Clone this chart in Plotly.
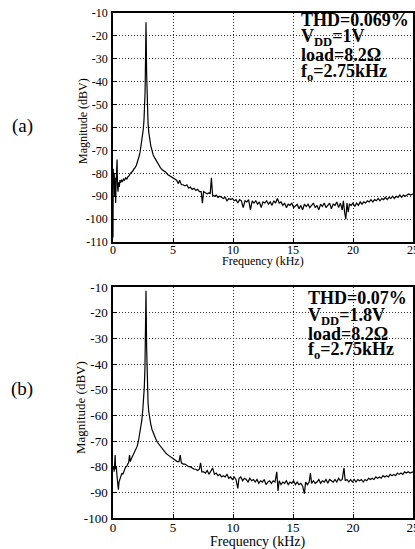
import plotly.graph_objects as go

# ---------------- data ----------------
freq_a = [0.0, 0.02, 0.06, 0.10, 0.14, 0.18, 0.22, 0.26, 0.30, 0.34, 0.38, 0.42, 0.46, 0.52, 0.58, 0.65,
          0.72, 0.80, 0.88, 0.96, 1.05, 1.15, 1.25, 1.35, 1.45, 1.55, 1.65, 1.75, 1.85, 1.95, 2.05, 2.15,
          2.25, 2.35, 2.45, 2.52, 2.58, 2.63, 2.67, 2.70, 2.73, 2.75, 2.77, 2.80, 2.83, 2.87, 2.92, 2.98,
          3.05, 3.15, 3.25, 3.35, 3.5, 3.65, 3.8, 3.95, 4.1, 4.25, 4.4, 4.55, 4.7, 4.85, 5.0, 5.15, 5.3,
          5.45, 5.55, 5.7, 5.85, 6.0, 6.15, 6.3, 6.45, 6.6, 6.75, 6.9, 7.05, 7.2, 7.35, 7.45, 7.55, 7.7,
          7.85, 8.0, 8.1, 8.2, 8.3, 8.45, 8.6, 8.75, 8.9, 9.05, 9.2, 9.35, 9.5, 9.65, 9.8, 9.95, 10.1,
          10.25, 10.4, 10.55, 10.7, 10.85, 11.0, 11.15, 11.3, 11.45, 11.6, 11.75, 11.9, 12.05, 12.2,
          12.35, 12.5, 12.65, 12.8, 12.95, 13.1, 13.25, 13.4, 13.55, 13.7, 13.85, 14.0, 14.15, 14.3,
          14.45, 14.6, 14.75, 14.9, 15.05, 15.2, 15.35, 15.5, 15.65, 15.8, 15.95, 16.1, 16.25, 16.4,
          16.55, 16.7, 16.85, 17.0, 17.15, 17.3, 17.45, 17.6, 17.75, 17.9, 18.05, 18.2, 18.35, 18.5,
          18.65, 18.8, 18.95, 19.1, 19.2, 19.3, 19.4, 19.5, 19.6, 19.7, 19.85, 20.0, 20.15, 20.3, 20.45,
          20.6, 20.75, 20.9, 21.05, 21.2, 21.35, 21.5, 21.65, 21.8, 21.95, 22.1, 22.25, 22.4, 22.55,
          22.7, 22.85, 23.0, 23.15, 23.3, 23.45, 23.6, 23.75, 23.9, 24.05, 24.2, 24.35, 24.5, 24.65,
          24.8, 25.0]
mag_a = [-108, -78, -86, -80, -90, -82, -93, -84, -76, -74, -86, -88, -84, -86, -83, -84,
         -83, -83.5, -82.5, -83, -82, -82.5, -81.5, -81, -80, -79.5, -79, -78, -77.5, -76.5, -75, -73,
         -71, -68, -64, -61, -57, -52, -45, -35, -22, -14, -22, -36, -46, -53, -58, -62,
         -65, -68, -70, -72, -73.5, -75, -76.5, -77.5, -78.5, -79, -79.5, -80.5, -81, -81.5, -82, -82.5, -83,
         -84.5, -83, -85, -85, -85.5, -85, -86.5, -86, -87, -86.5, -87.5, -87, -88, -88, -93, -88, -88.5,
         -89, -88.5, -89, -82, -89.5, -90, -89.5, -90.5, -90, -90.5, -91, -90.5, -92, -91, -91.5, -91, -92,
         -91.5, -93, -91.5, -92, -95, -92, -92.5, -91.5, -96, -92, -93, -92, -93.5, -92.5,
         -95, -92.5, -93, -92, -93.5, -92.5, -94, -92, -93, -91, -93, -92.5, -94, -93,
         -95, -93.5, -94, -93, -95, -94, -93.5, -95.5, -94, -96, -93.5, -94.5, -93.5, -95,
         -94, -93, -95, -94, -96, -93.5, -94.5, -93, -95, -94, -93, -95.5, -93.5, -94,
         -92.5, -95, -93, -96, -92, -97, -100, -93, -97, -93.5, -94, -93, -94.5, -93, -94,
         -92.5, -93.5, -92.5, -93, -92, -92.5, -91.5, -92.5, -91.5, -92, -91, -92, -91, -91.5,
         -90.5, -91.5, -90.5, -91, -90, -91, -90, -90.5, -89.5, -90.5, -89.5, -90, -89.5, -89,
         -89.5, -89]

freq_b = [0.02, 0.06, 0.10, 0.14, 0.18, 0.22, 0.28, 0.34, 0.40, 0.45, 0.50, 0.58, 0.66, 0.74, 0.82, 0.90,
          0.98, 1.06, 1.14, 1.22, 1.30, 1.38, 1.44, 1.52, 1.62, 1.72, 1.82, 1.92, 2.02, 2.12, 2.22, 2.32,
          2.40, 2.48, 2.55, 2.61, 2.66, 2.70, 2.73, 2.75, 2.77, 2.80, 2.83, 2.87, 2.92, 2.98, 3.05, 3.15,
          3.25, 3.4, 3.55, 3.7, 3.85, 4.0, 4.15, 4.3, 4.45, 4.6, 4.75, 4.9, 5.05, 5.2, 5.35, 5.5, 5.6,
          5.7, 5.85, 6.0, 6.15, 6.3, 6.45, 6.6, 6.75, 6.9, 7.05, 7.2, 7.3, 7.4, 7.55, 7.7, 7.85, 8.0,
          8.15, 8.3, 8.45, 8.6, 8.75, 8.9, 9.05, 9.2, 9.35, 9.5, 9.65, 9.8, 9.95, 10.1, 10.25, 10.4,
          10.5, 10.65, 10.8, 10.95, 11.1, 11.25, 11.4, 11.55, 11.7, 11.85, 12.0, 12.15, 12.3, 12.45,
          12.6, 12.75, 12.9, 13.05, 13.2, 13.35, 13.5, 13.65, 13.75, 13.85, 14.0, 14.15, 14.3, 14.45,
          14.6, 14.75, 14.9, 15.05, 15.2, 15.35, 15.5, 15.65, 15.8, 15.95, 16.05, 16.2, 16.35, 16.45,
          16.55, 16.7, 16.85, 17.0, 17.15, 17.3, 17.45, 17.6, 17.75, 17.9, 18.05, 18.2, 18.35, 18.5,
          18.65, 18.8, 18.95, 19.1, 19.25, 19.35, 19.5, 19.65, 19.8, 19.95, 20.1, 20.25, 20.4, 20.55,
          20.7, 20.85, 21.0, 21.15, 21.3, 21.45, 21.6, 21.75, 21.9, 22.05, 22.2, 22.35, 22.5, 22.65,
          22.8, 22.95, 23.1, 23.25, 23.4, 23.55, 23.7, 23.85, 24.0, 24.15, 24.3, 24.45, 24.6, 24.75, 25.0]
mag_b = [-81, -80, -82, -76, -75.5, -81, -80, -84, -88, -89, -86, -85, -84, -82.5, -83, -81.5,
         -81, -80, -80, -79, -78.5, -75.5, -78, -77, -76, -75.5, -74.5, -73.5, -72, -70, -67.5, -64.5,
         -62, -58, -54, -49, -42, -32, -20, -11.5, -20, -33, -43, -50, -55, -58.5, -61, -63.5,
         -65.5, -67.5, -69, -70.5, -71.5, -72.5, -73.5, -74, -75, -75.5, -76, -76.5, -77, -77.5, -78, -78, -75.5,
         -78.5, -79, -79, -79.5, -80, -80, -80.5, -81, -81, -81.5, -81, -78.5, -82, -82, -82.5, -81.5, -83,
         -82, -80.5, -83, -82.5, -83.5, -83, -84, -83.5, -84, -83, -84.5, -84, -85, -84, -85, -88.5,
         -84.5, -84, -85.5, -84.5, -85, -86, -84.5, -85.5, -85, -86, -85, -86.5, -85.5, -86,
         -85, -87, -86, -85.5, -86.5, -85.5, -86, -82, -89.5, -85.5, -87, -86, -86.5, -85.5,
         -87, -86, -86.5, -85.5, -87, -86, -87, -86.5, -87.5, -90.5, -86, -87, -86, -82.5,
         -86.5, -85.5, -86.5, -86, -85, -86.5, -85.5, -86, -85, -86.5, -85, -85.5, -86, -85,
         -86, -84.5, -85.5, -85, -80.5, -85.5, -85, -86, -85, -86, -85, -86, -85, -85.5,
         -85, -86, -85, -85.5, -84.5, -85, -84.5, -85, -84, -84.5, -84, -84.5, -83.5, -84,
         -83.5, -84, -83, -83.5, -83, -83.5, -82.5, -83, -82.5, -83, -82, -82.5, -82, -82.5, -82]

xticks = [0, 5, 10, 15, 20, 25]
yticks_a = [-10, -20, -30, -40, -50, -60, -70, -80, -90, -100, -110]
yticks_b = [-10, -20, -30, -40, -50, -60, -70, -80, -90, -100]

text_a = ["THD=0.069%", "V<sub>DD</sub>=1V", "load=8.2Ω", "f<sub>o</sub>=2.75kHz"]
text_b = ["THD=0.07%", "V<sub>DD</sub>=1.8V", "load=8.2Ω", "f<sub>o</sub>=2.75kHz"]

# ---------------- figure ----------------
W, H = 415, 549
L, R, T, B = 113, 2, 13, 31
PW = W - L - R
PH = H - T - B


def ydom(top_px, bot_px):
    return [(H - B - bot_px) / PH, (H - B - top_px) / PH]


def px(xp):
    return (xp - L) / PW


def py(yp):
    return (H - B - yp) / PH


SERIF = "Liberation Serif, Times New Roman, serif"

fig = go.Figure()
fig.add_trace(go.Scatter(x=freq_a, y=mag_a, mode="lines", line=dict(color="black", width=1.2),
                         xaxis="x", yaxis="y", showlegend=False))
fig.add_trace(go.Scatter(x=freq_b, y=mag_b, mode="lines", line=dict(color="black", width=1.2),
                         xaxis="x2", yaxis="y2", showlegend=False))

common_axis = dict(showline=True, linecolor="black", linewidth=1.5, mirror=True,
                   showgrid=True, gridcolor="#333", gridwidth=1, griddash="1px,2px",
                   zeroline=False, ticks="inside", ticklen=4, tickcolor="black",
                   automargin=False)

fig.update_layout(
    width=W, height=H, margin=dict(l=L, r=R, t=T, b=B, autoexpand=False),
    paper_bgcolor="white", plot_bgcolor="white",
    font=dict(family=SERIF, color="black"),
    xaxis=dict(domain=[0, 1], anchor="y", range=[0, 25], tickvals=xticks,
               ticktext=[str(v) for v in xticks], ticklabeloverflow="allow",
               ticklabelstandoff=-4,
               tickfont=dict(size=12, family=SERIF), **common_axis),
    yaxis=dict(domain=ydom(13, 242), anchor="x", range=[-110, -10], tickvals=yticks_a,
               ticktext=[str(v) for v in yticks_a],
               tickfont=dict(size=12, family=SERIF), ticklabelstandoff=1, **common_axis),
    xaxis2=dict(domain=[0, 1], anchor="y2", range=[0, 25], tickvals=xticks,
                ticktext=[str(v) for v in xticks], ticklabeloverflow="allow",
                ticklabelstandoff=-3,
                tickfont=dict(size=13, family=SERIF), **common_axis),
    yaxis2=dict(domain=ydom(287, 518), anchor="x2", range=[-100, -10], tickvals=yticks_b,
                ticktext=[str(v) for v in yticks_b],
                tickfont=dict(size=13, family=SERIF), ticklabelstandoff=1, **common_axis),
)

ann = []
# axis titles
ann.append(dict(text="Frequency (kHz)", xref="paper", yref="paper", x=px(263), y=py(261),
                showarrow=False, font=dict(size=12, family=SERIF),
                xanchor="center", yanchor="middle"))
ann.append(dict(text="Frequency (kHz)", xref="paper", yref="paper", x=px(258), y=py(542),
                showarrow=False, font=dict(size=14, family=SERIF),
                xanchor="center", yanchor="middle"))
ann.append(dict(text="Magnitude (dBV)", xref="paper", yref="paper", x=px(83), y=py(121),
                showarrow=False, font=dict(size=12, family=SERIF),
                textangle=-90, xanchor="center", yanchor="middle"))
ann.append(dict(text="Magnitude (dBV)", xref="paper", yref="paper", x=px(80), y=py(408),
                showarrow=False, font=dict(size=13, family=SERIF),
                textangle=-90, xanchor="center", yanchor="middle"))
# panel labels
ann.append(dict(text="(a)", xref="paper", yref="paper", x=px(22), y=py(126),
                showarrow=False, font=dict(size=19, family=SERIF),
                xanchor="center", yanchor="middle"))
ann.append(dict(text="(b)", xref="paper", yref="paper", x=px(22), y=py(389),
                showarrow=False, font=dict(size=19, family=SERIF),
                xanchor="center", yanchor="middle"))
# condition texts
for txt, yp in zip(text_a, [20, 37, 55, 72]):
    ann.append(dict(text="<b>" + txt + "</b>", xref="paper", yref="paper",
                    x=px(299), y=py(yp), showarrow=False,
                    font=dict(size=18, family=SERIF), xanchor="left", yanchor="middle"))
for txt, yp in zip(text_b, [298, 316, 334, 351]):
    ann.append(dict(text="<b>" + txt + "</b>", xref="paper", yref="paper",
                    x=px(306), y=py(yp), showarrow=False,
                    font=dict(size=18, family=SERIF), xanchor="left", yanchor="middle"))
fig.update_layout(annotations=ann)

fig.write_html("out.html", config={"displayModeBar": False},
               post_script="document.body.style.margin='0';document.body.style.padding='0';")
